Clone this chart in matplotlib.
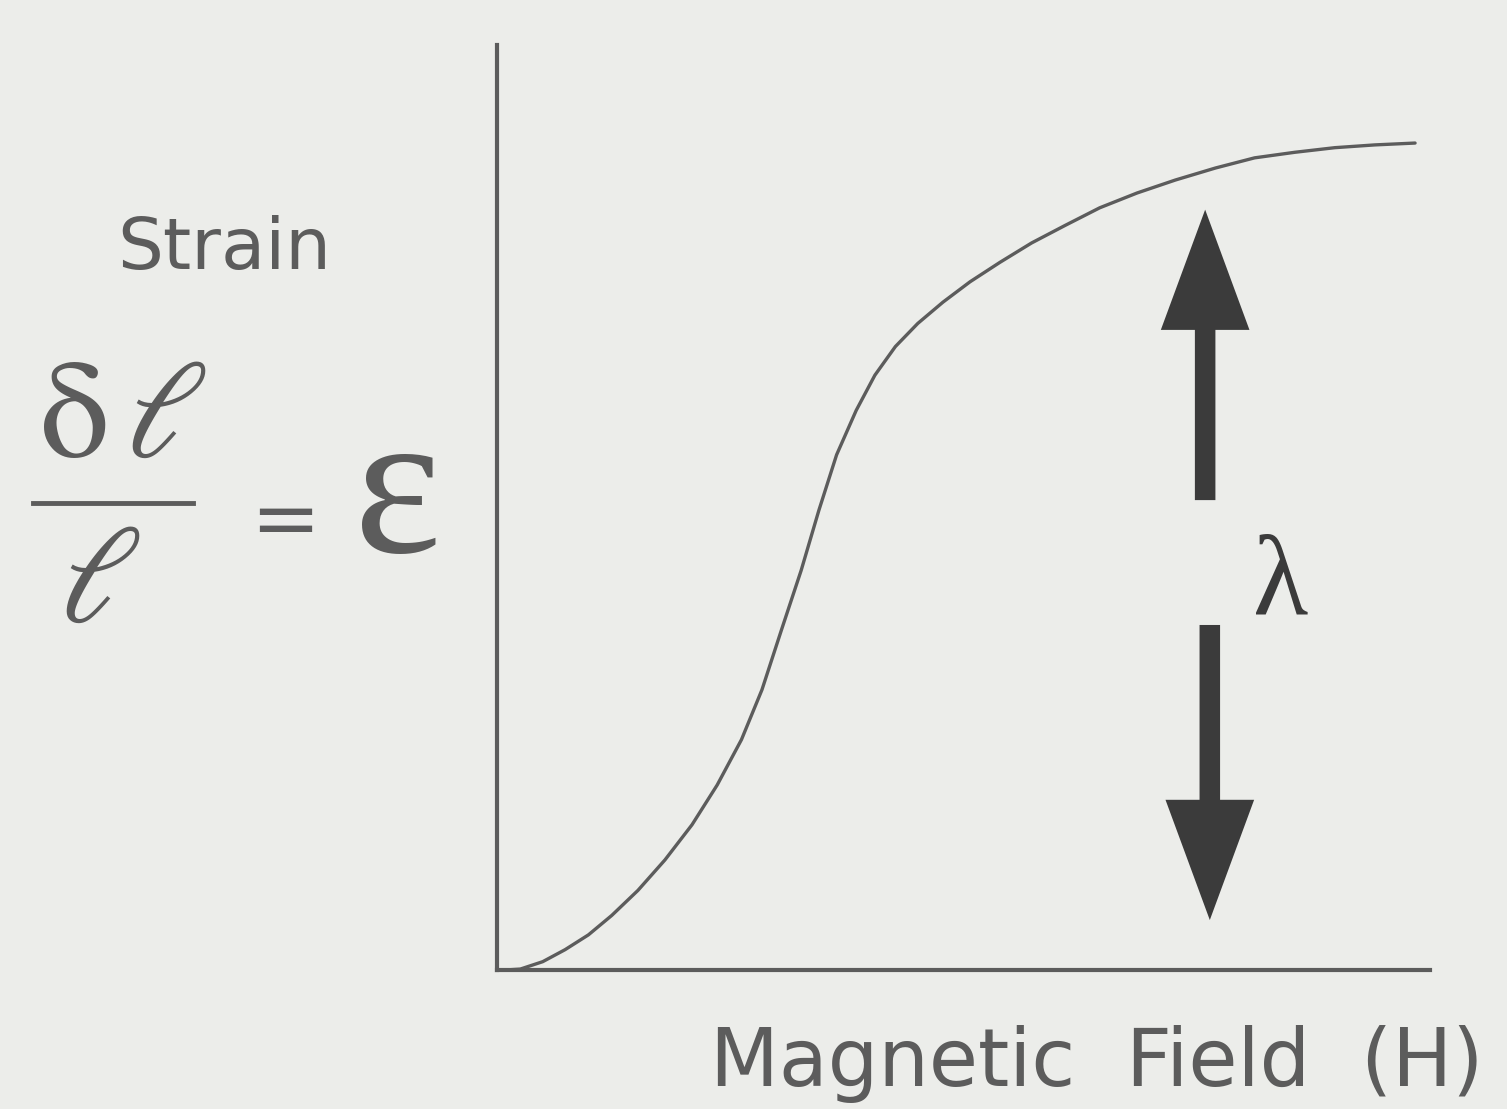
import matplotlib.pyplot as plt
from matplotlib.patches import FancyArrow

# magnetostriction curve (arbitrary units 0..10)
field = [0.09, 0.25, 0.49, 0.73, 0.98, 1.23, 1.51, 1.80, 2.09, 2.36, 2.62,
         2.84, 3.05, 3.26, 3.45, 3.64, 3.85, 4.05, 4.27, 4.51, 4.78, 5.07,
         5.39, 5.73, 6.09, 6.46, 6.86, 7.27, 7.70, 8.12, 8.55, 8.98, 9.41,
         9.84]
strain = [0.00, 0.01, 0.09, 0.22, 0.38, 0.59, 0.86, 1.19, 1.57, 2.00, 2.49,
          3.03, 3.68, 4.32, 4.97, 5.57, 6.05, 6.43, 6.74, 6.99, 7.22, 7.44,
          7.65, 7.86, 8.05, 8.24, 8.40, 8.54, 8.67, 8.78, 8.84, 8.89, 8.92,
          8.94]

x_label = "Magnetic  Field  (H)"
y_label = "Strain"

W, H = 1507, 1109
bg = "#ecedea"
ink = "#5c5c5c"
dark = "#3b3b3b"

plt.rcParams['mathtext.fontset'] = 'stix'

fig = plt.figure(figsize=(W / 100, H / 100), dpi=100, facecolor=bg)


def fx(px):
    return px / W


def fy(py):
    return 1 - py / H


ax = fig.add_axes([fx(497), fy(970), (1430 - 497) / W, (970 - 45) / H])
ax.set_facecolor(bg)
ax.set_xlim(0, 10)
ax.set_ylim(0, 10)
for s in ("top", "right"):
    ax.spines[s].set_visible(False)
for s in ("left", "bottom"):
    ax.spines[s].set_color(ink)
    ax.spines[s].set_linewidth(3)
    ax.spines[s].set_capstyle("projecting")
ax.set_xticks([])
ax.set_yticks([])

ax.plot(field, strain, color=ink, lw=2.4, solid_joinstyle="round",
        solid_capstyle="round")

# double arrow marking lambda
ax.add_patch(FancyArrow(7.59, 5.08, 0, 3.14, width=0.22, head_width=0.95,
                        head_length=1.30, length_includes_head=True,
                        color=dark, lw=0))
ax.add_patch(FancyArrow(7.64, 3.73, 0, -3.19, width=0.22, head_width=0.95,
                        head_length=1.30, length_includes_head=True,
                        color=dark, lw=0))
fig.text(fx(1281), fy(586), "λ", fontsize=82, color=dark,
         family="Liberation Serif", ha="center", va="center")

# labels
fig.text(fx(224), fy(250), y_label, fontsize=52, color=ink,
         family="DejaVu Sans", ha="center", va="center")
fig.text(fx(1097), fy(1064), x_label, fontsize=57.5, color=ink,
         family="DejaVu Sans", ha="center", va="center")

# strain definition
fig.text(fx(123), fy(418), r"$\mathrm{\delta}\,\ell$", fontsize=100,
         color=ink, ha="center", va="center")
fig.add_artist(plt.Line2D([fx(33), fx(193)], [fy(503), fy(503)],
                          color=ink, lw=3.5))
fig.text(fx(100), fy(583), r"$\ell$", fontsize=100, color=ink,
         ha="center", va="center")
fig.text(fx(285), fy(522), "=", fontsize=60, color=ink,
         family="DejaVu Sans", ha="center", va="center")
fig.text(fx(398), fy(502), "ε", fontsize=150, color=ink,
         family="Liberation Serif", ha="center", va="center")

fig.savefig("out.png", dpi=100, facecolor=bg)
